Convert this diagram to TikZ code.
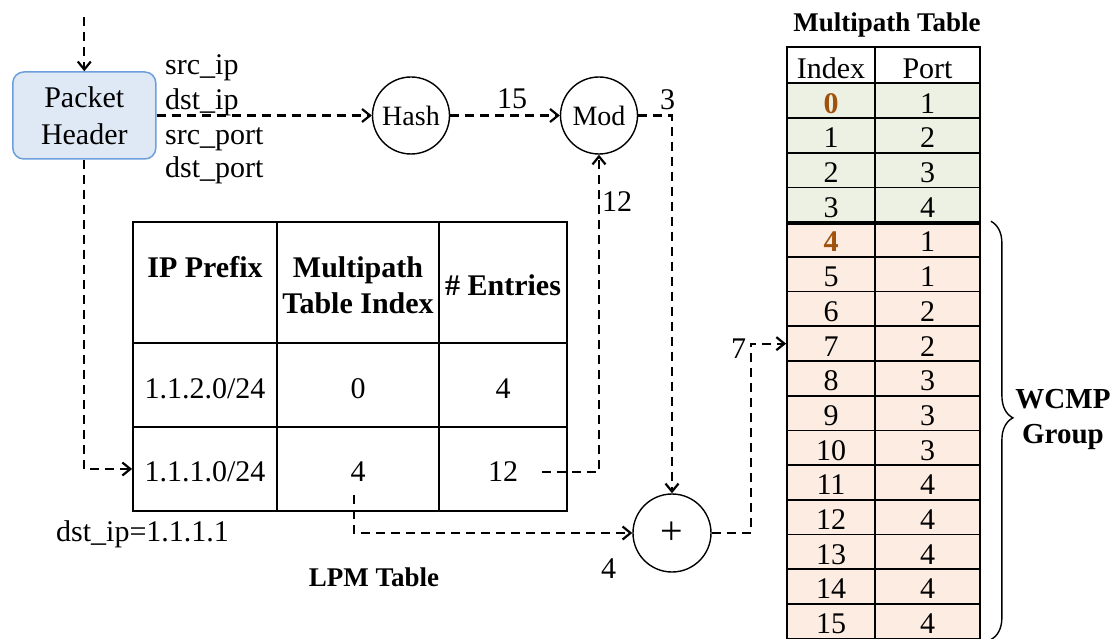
\documentclass[tikz,border=0pt]{standalone}
\usepackage{fontspec}
\setmainfont{Liberation Serif}
\usetikzlibrary{arrows.meta,decorations.pathreplacing}
\definecolor{hdrfill}{HTML}{DFE8F5}
\definecolor{hdrline}{HTML}{6C9FDB}
\definecolor{grnfill}{HTML}{EDF1E4}
\definecolor{orgfill}{HTML}{FDECE1}
\definecolor{brn}{HTML}{A0520C}
\begin{document}
\begin{tikzpicture}[x=1pt,y=-1pt,
  conn/.style={line width=2.2pt, dash pattern=on 9pt off 6pt, -{Straight Barb[length=8pt,width=13pt]}},
  opnode/.style={circle, draw, line width=1.4pt, minimum size=77pt, inner sep=0pt, font=\fontsize{28}{30}\selectfont},
  rtxt/.style={font=\fontsize{30}{36}\selectfont, inner sep=0pt},
  btxt/.style={font=\fontsize{30}{36}\selectfont\bfseries, inner sep=0pt},
  ttl/.style={font=\fontsize{27}{30}\selectfont\bfseries, inner sep=0pt},
  cellbox/.style={draw, line width=1.8pt, inner sep=0pt},
]
\useasboundingbox (0,0) rectangle (1117,639);

% Packet header
\node[draw=hdrline, fill=hdrfill, line width=1.5pt, rounded corners=11pt,
      minimum width=143pt, minimum height=87pt, align=center,
      font=\fontsize{30}{37}\selectfont, inner sep=0pt] (ph) at (84.3,115.5) {Packet\\Header};
\coordinate (in) at (84.3,17);
\node[rtxt, anchor=base west] (f1) at (165,75) {src\_ip};
\node[rtxt, anchor=base west] (f2) at (165,110) {dst\_ip};
\node[rtxt, anchor=base west] (f3) at (165,145) {src\_port};
\node[rtxt, anchor=base west] (f4) at (165,178) {dst\_port};

% operators
\node[opnode] (hash) at (411,115.5) {Hash};
\node[opnode] (mod) at (599,115.5) {Mod};
\node[opnode, minimum size=78pt, font=\fontsize{40}{42}\selectfont] (plus) at (672,533) {+};

% LPM table
\node[cellbox, minimum width=144pt, minimum height=121pt] (c01) at (205,282.5) {};
\node[cellbox, minimum width=162pt, minimum height=121pt] (c02) at (358,282.5) {};
\node[cellbox, minimum width=128pt, minimum height=121pt] (c03) at (503,282.5) {};
\node[cellbox, minimum width=144pt, minimum height=84pt] (c11) at (205,385) {};
\node[cellbox, minimum width=162pt, minimum height=84pt] (c12) at (358,385) {};
\node[cellbox, minimum width=128pt, minimum height=84pt] (c13) at (503,385) {};
\node[cellbox, minimum width=144pt, minimum height=84pt] (c21) at (205,469) {};
\node[cellbox, minimum width=162pt, minimum height=84pt] (c22) at (358,469) {};
\node[cellbox, minimum width=128pt, minimum height=84pt] (c23) at (503,469) {};

\node[btxt, anchor=base] (t01) at (205,277) {IP Prefix};
\node[btxt, anchor=base] (t02a) at (358,277) {Multipath};
\node[btxt, anchor=base] (t02b) at (358,313) {Table Index};
\node[btxt, anchor=base] (t03) at (503,295) {\# Entries};
\node[rtxt, anchor=base] (t11) at (205,398.3) {1.1.2.0/24};
\node[rtxt, anchor=base] (t12) at (358,398.3) {0};
\node[rtxt, anchor=base] (t13) at (503,398.3) {4};
\node[rtxt, anchor=base] (t21) at (205,481.7) {1.1.1.0/24};
\node[rtxt, anchor=base] (t22) at (358,481.7) {4};
\node[rtxt, anchor=base] (t23) at (503,481.7) {12};

\node[rtxt, anchor=base west] (dip) at (56,541.7) {dst\_ip=1.1.1.1};
\node[ttl, anchor=base] (lpmt) at (374,586) {LPM Table};

% Multipath table
\node[ttl, anchor=base] (mpt) at (887,31.7) {Multipath Table};
\node[cellbox, fill=white, minimum width=88pt, minimum height=36pt] (mh1) at (831,65.4) {};
\node[cellbox, fill=white, minimum width=105pt, minimum height=36pt] (mh2) at (927.5,65.4) {};
\node[rtxt, anchor=base] (th1) at (831,78.3) {Index};
\node[rtxt, anchor=base] (th2) at (927.5,78.3) {Port};
\foreach \p [count=\i from 0] in {1,2,3,4,1,1,2,2,3,3,3,4,4,4,4,4} {
  \pgfmathsetmacro\yc{83.4+34.7*\i+17.35}
  \pgfmathsetmacro\yb{83.4+34.7*\i+29.7}
  \ifnum\i<4 \def\cellfill{grnfill}\else\def\cellfill{orgfill}\fi
  \node[cellbox, fill=\cellfill, minimum width=88pt, minimum height=34.7pt] (mi\i) at (831,\yc) {};
  \node[cellbox, fill=\cellfill, minimum width=105pt, minimum height=34.7pt] (mp\i) at (927.5,\yc) {};
  \node[rtxt, anchor=base] (ti\i) at (831,\yb) {\ifnum\i=0 \textbf{\color{brn}0}\else\ifnum\i=4 \textbf{\color{brn}4}\else\i\fi\fi};
  \node[rtxt, anchor=base] (tp\i) at (927.5,\yb) {\p};
}
\draw[line width=3.8pt] (mi3.south west) -- (mp3.south east);

% brace
\draw[decorate, decoration={brace, amplitude=22pt, aspect=0.47}, line width=1.4pt]
  ([xshift=10pt]mp4.north east) -- ([xshift=10pt]mp15.south east);
\node[btxt, font=\fontsize{29}{35}\selectfont\bfseries, anchor=base] (wc1) at (1063,408) {WCMP};
\node[btxt, font=\fontsize{29}{35}\selectfont\bfseries, anchor=base] (wc2) at (1063,443) {Group};

% connectors
\coordinate (s12) at (542,472);
\coordinate (s4) at (354,495);
\draw[conn] (in) -- (ph.north);
\draw[conn] (ph.east) -- (hash.west);
\draw[conn] (hash.east) -- (mod.west);
\draw[conn] (mod.east) -| (plus.north);
\draw[conn] (ph.south) |- (c21.west);
\draw[conn] (s12) -| (mod.south);
\draw[conn] (s4) |- (plus.west);
\draw[conn] (plus.east) -| ([xshift=-35pt]mi7.west) -- (mi7.west);

% connector labels
\node[rtxt, anchor=base] (l15) at (512,109) {15};
\node[rtxt, anchor=base] (l3) at (667.5,110) {3};
\node[rtxt, anchor=base] (l12) at (617,212) {12};
\node[rtxt, anchor=base] (l7) at (738.5,358) {7};
\node[rtxt, anchor=base] (l4) at (608.5,578) {4};
\end{tikzpicture}
\end{document}
